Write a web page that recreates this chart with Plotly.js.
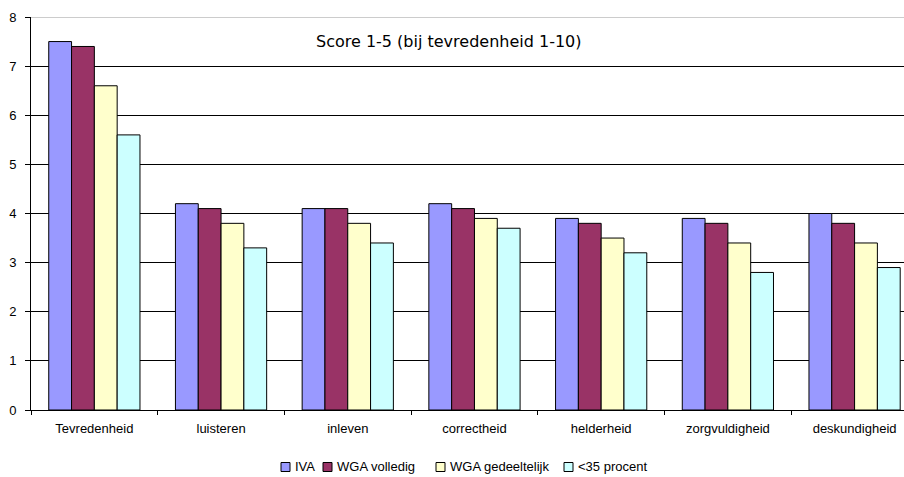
<!DOCTYPE html>
<html>
<head>
<meta charset="utf-8">
<script src="https://cdn.plot.ly/plotly-3.0.1.min.js"></script>
<style>html,body{margin:0;padding:0;background:#fff;}#chart{width:904px;height:477px;}</style>
</head>
<body>
<div id="chart"></div>
<script>
const categories = ["Tevredenheid","luisteren","inleven","correctheid","helderheid","zorgvuldigheid","deskundigheid"];
const seriesNames = ["IVA","WGA volledig","WGA gedeeltelijk","<35 procent"];
const iva = [7.5, 4.2, 4.1, 4.2, 3.9, 3.9, 4.0];
const wgaVolledig = [7.4, 4.1, 4.1, 4.1, 3.8, 3.8, 3.8];
const wgaGedeeltelijk = [6.6, 3.8, 3.8, 3.9, 3.5, 3.4, 3.4];
const onder35 = [5.6, 3.3, 3.4, 3.7, 3.2, 2.8, 2.9];
const yTicks = [0,1,2,3,4,5,6,7,8];
const colors = ["#9999FF","#993366","#FFFFCC","#CCFFFF"];
const values = [iva, wgaVolledig, wgaGedeeltelijk, onder35];

const W = 904, H = 477;
const margin = {l: 31, r: 0, t: 17, b: 67};
const plotW = W - margin.l - margin.r;
const plotH = H - margin.t - margin.b;

const traces = values.map((v, i) => ({
  type: "bar",
  name: seriesNames[i],
  x: categories,
  y: v,
  marker: {color: colors[i], line: {color: "#000", width: 1}},
  hoverinfo: "x+y+name",
  showlegend: false
}));

// custom legend (small squares like the original)
const legendSquareLeft = [281, 323, 436, 564];
const legendY = 467;
const shapes = [
  {type: "line", xref: "paper", yref: "y", x0: 0, x1: 1, y0: 8, y1: 8, line: {color: "#9a9a9a", width: 1}}
];
const annotations = [
  {text: "Score 1-5 (bij tevredenheid 1-10)", xref: "paper", yref: "paper",
   x: (449 - margin.l) / plotW, y: (H - margin.b - 42) / plotH, xanchor: "center", yanchor: "middle", showarrow: false,
   font: {family: "DejaVu Sans, Verdana, sans-serif", size: 16, color: "#000"}}
];
const px2x = p => (p - margin.l) / plotW;
const py2y = p => (H - margin.b - p) / plotH;
seriesNames.forEach((name, i) => {
  const x0 = legendSquareLeft[i];
  shapes.push({type: "rect", xref: "paper", yref: "paper",
    x0: px2x(x0), x1: px2x(x0 + 9), y0: py2y(legendY + 4.5), y1: py2y(legendY - 4.5),
    fillcolor: colors[i], line: {color: "#000", width: 1}});
  annotations.push({text: name, xref: "paper", yref: "paper",
    x: px2x(x0 + 12), y: py2y(legendY), xanchor: "left", yanchor: "middle", showarrow: false,
    font: {size: 13, color: "#000"}});
});

const layout = {
  width: W, height: H,
  margin: margin,
  paper_bgcolor: "#fff", plot_bgcolor: "#fff",
  barmode: "group", bargap: 0.28, bargroupgap: 0,
  font: {family: "Liberation Sans, Arial, sans-serif", size: 13, color: "#000"},
  showlegend: false,
  xaxis: {
    type: "category", range: [-0.5, 6.39],
    showgrid: false, showline: true, linecolor: "#000", linewidth: 1,
    ticks: "outside", tickson: "boundaries", ticklen: 4, tickcolor: "#000",
    ticklabelstandoff: 6,
    tickfont: {size: 13}
  },
  yaxis: {
    range: [0, 8], tickvals: yTicks, ticktext: yTicks.map(String),
    showgrid: true, gridcolor: "#000", gridwidth: 1,
    showline: true, linecolor: "#000", linewidth: 1,
    ticks: "outside", ticklen: 5, tickcolor: "#000",
    ticklabelstandoff: 6,
    zeroline: false, tickfont: {size: 13}
  },
  shapes: shapes,
  annotations: annotations
};

Plotly.newPlot("chart", traces, layout, {displayModeBar: false, responsive: false});
</script>
</body>
</html>
